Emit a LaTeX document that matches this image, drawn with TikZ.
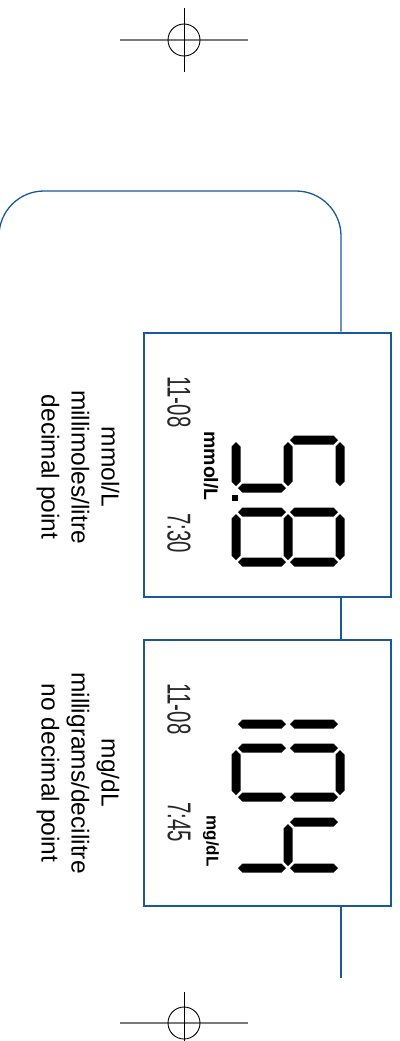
\documentclass[tikz,border=0pt]{standalone}
\usepackage{fontspec}
\setmainfont{Liberation Sans}
\definecolor{framec}{HTML}{175A96}
\definecolor{cropgrey}{HTML}{7A7A7A}
\newcommand\lcdgap{2}
\newcommand\lcdhw{4.5}
% segment vertical on screen: x=#1, y from #2 to #3
\newcommand\lcdv[3]{\fill (#1,#2+\lcdgap) -- (#1+\lcdhw,#2+\lcdgap+\lcdhw) -- (#1+\lcdhw,#3-\lcdgap-\lcdhw) -- (#1,#3-\lcdgap) -- (#1-\lcdhw,#3-\lcdgap-\lcdhw) -- (#1-\lcdhw,#2+\lcdgap+\lcdhw) -- cycle;}
% segment horizontal on screen: y=#1, x from #2 to #3
\newcommand\lcdh[3]{\fill (#2+\lcdgap,#1) -- (#2+\lcdgap+\lcdhw,#1-\lcdhw) -- (#3-\lcdgap-\lcdhw,#1-\lcdhw) -- (#3-\lcdgap,#1) -- (#3-\lcdgap-\lcdhw,#1+\lcdhw) -- (#2+\lcdgap+\lcdhw,#1+\lcdhw) -- cycle;}
% segments of a digit whose left side is at y=#1 and right side at y=#2
\newcommand\sgA[2]{\lcdv{340}{#1}{#2}}
\newcommand\sgD[2]{\lcdv{236}{#1}{#2}}
\newcommand\sgG[2]{\lcdv{288}{#1}{#2}}
\newcommand\sgF[2]{\lcdh{#1}{288}{340}}
\newcommand\sgE[2]{\lcdh{#1}{236}{288}}
\newcommand\sgB[2]{\lcdh{#2}{288}{340}}
\newcommand\sgC[2]{\lcdh{#2}{236}{288}}
\begin{document}
\begin{tikzpicture}[x=1pt,y=-1pt,
  framebox/.style={draw=framec,line width=2.6pt,minimum width=247pt,minimum height=264pt,inner sep=0pt},
  link/.style={draw=framec,line width=1.3pt},
  lbl/.style={rotate=-90,align=center,inner sep=0pt,font=\fontsize{24.5}{30}\selectfont},
  unitlbl/.style={rotate=-90,inner sep=0pt},
  small/.style={rotate=-90,inner sep=0pt,text=black!85,font=\fontsize{33}{33}\selectfont},
  cropline/.style={cropgrey,line width=2pt},
  cropthin/.style={black,line width=0.9pt}]
\useasboundingbox (0,0) rectangle (399,1041);
\clip (0,0) rectangle (399,1041);

% crop marks
\coordinate (t1) at (120,40); \coordinate (t2) at (248,40);
\coordinate (t3) at (184,8);  \coordinate (t4) at (184,72);
\draw[cropline] (t1) -- (t2);
\draw[cropthin] (t3) -- (t4);
\draw[cropthin] (184,40) circle[radius=16];
\coordinate (b1) at (120,1023); \coordinate (b2) at (248,1023);
\coordinate (b3) at (184,992);  \coordinate (b4) at (184,1045);
\draw[cropline] (b1) -- (b2);
\draw[cropthin] (b3) -- (b4);
\draw[cropthin] (184,1023) circle[radius=16];

% display boxes
\node[framebox] (box1) at (267.5,465) {};
\node[framebox,minimum height=266pt] (box2) at (267.5,773) {};

% outline and connectors
\coordinate (vx) at (341,0);
\coordinate (lend) at (-1,236);
\draw[link] (lend) arc[start angle=180,end angle=270,radius=45] -- (296,191)
   arc[start angle=270,end angle=360,radius=45] -- (box1.north -| vx);
\draw[link] (box1.south -| vx) -- (box2.north -| vx);
\coordinate (tail) at (341,978);
\draw[link] (box2.south -| vx) -- (tail);

% labels
\node[lbl] (lab1) at (78,467) {mmol/L\\millimoles/litre\\decimal point};
\node[lbl] (lab2) at (78,773) {mg/dL\\milligrams/decilitre\\no decimal point};

% small LCD texts
\node[small] (d1) at (179,402) {\scalebox{0.62}[1]{11-08}};
\node[small] (t1n) at (179,533) {\scalebox{0.62}[1]{7:30}};
\node[small] (d2) at (179,709) {\scalebox{0.62}[1]{11-08}};
\node[small] (t2n) at (179,822) {\scalebox{0.62}[1]{7:45}};
\node[unitlbl,font=\fontsize{19.5}{19.5}\selectfont\bfseries] (u1) at (211,466) {mmol/L};
\node[unitlbl,font=\fontsize{17}{17}\selectfont\bfseries] (u2) at (211,841) {mg/dL};

% big digits, box 1: 5.8
\sgA{440}{488}\sgF{440}{488}\sgG{440}{488}\sgC{440}{488}\sgD{440}{488}
\fill (232,495) rectangle (238,501);
\sgA{512}{562}\sgB{512}{562}\sgC{512}{562}\sgD{512}{562}\sgE{512}{562}\sgF{512}{562}\sgG{512}{562}

% big digits, box 2: 104
\sgB{676}{724}\sgC{676}{724}
\sgA{748}{797}\sgB{748}{797}\sgC{748}{797}\sgD{748}{797}\sgE{748}{797}\sgF{748}{797}
\sgF{822}{868}\sgG{822}{868}\sgB{822}{868}\sgC{822}{868}
\end{tikzpicture}
\end{document}
